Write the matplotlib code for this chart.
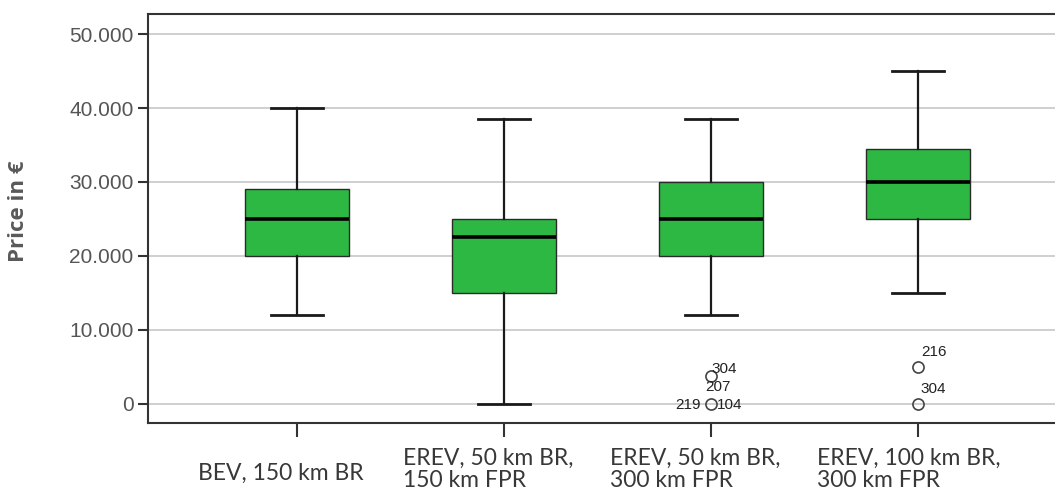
import matplotlib
matplotlib.use('Agg')
import matplotlib.pyplot as plt

# box statistics per vehicle concept (price in EUR)
groups=['BEV, 150 km BR','EREV, 50 km BR,\n150 km FPR','EREV, 50 km BR,\n300 km FPR','EREV, 100 km BR,\n300 km FPR']
whislo=[12000,0,12000,15000]
q1=[20000,15000,20000,25000]
med=[25000,22500,25000,30000]
q3=[29000,25000,30000,34500]
whishi=[40000,38500,38500,45000]
fliers=[[],[],[3800,0],[5000,0]]
# case ids for outliers: (group, value, label, offset in points)
outlier_ids=[(3,3800,'304',(0,5)),(3,0,'207',(-4,12)),(3,0,'219',(-26,-1)),(3,0,'104',(4,-1)),
             (4,5000,'216',(2,11)),(4,0,'304',(2,11))]
yticks=[0,10000,20000,30000,40000,50000]
ytick_labels=['0','10.000','20.000','30.000','40.000','50.000']

fig=plt.figure(figsize=(10.55,5),dpi=100)
ax=fig.add_axes([148/1055,77/500,907/1055,409/500])

stats=[]
for i in range(len(groups)):
    stats.append(dict(whislo=whislo[i],q1=q1[i],med=med[i],q3=q3[i],whishi=whishi[i],fliers=fliers[i]))

pos=[1,2,3,4]
ax.bxp(stats,positions=pos,widths=0.5,patch_artist=True,
       boxprops=dict(facecolor='#2db843',edgecolor='#2a2a2a',linewidth=1.0),
       medianprops=dict(color='black',linewidth=2.6),
       whiskerprops=dict(color='#1a1a1a',linewidth=1.6),
       capprops=dict(color='#1a1a1a',linewidth=2.0),
       capwidths=0.25,
       flierprops=dict(marker='o',markerfacecolor='none',markeredgecolor='#444444',markersize=8,markeredgewidth=1.2),
       zorder=3)

for g,v,lab,off in outlier_ids:
    ax.annotate(lab,(g,v),xytext=off,textcoords='offset points',fontsize=11,color='#222222',
                family='Liberation Sans',va='center',ha='left',zorder=4)

ax.set_ylim(-2568,52703)
ax.set_xlim(0.28,4.662)
ax.set_yticks(yticks)
ax.set_yticklabels(ytick_labels,fontsize=15,color='#555555',family='Liberation Sans')
ax.grid(axis='y',color='#cccccc',linewidth=1.3,zorder=0)
ax.set_axisbelow(True)
ax.tick_params(axis='y',direction='out',length=7,width=1.5,color='#333333')
ax.set_xticks(pos)
ax.set_xticklabels([])
ax.tick_params(axis='x',direction='out',length=10,width=1.5,color='#333333')
for s in ['left','bottom','top']:
    ax.spines[s].set_color('#333333')
    ax.spines[s].set_linewidth(1.5)
ax.spines['right'].set_visible(False)

ax.set_ylabel('Price in €',fontsize=16,fontweight='bold',color='#595959',family='Open Sans')
ax.yaxis.set_label_coords(-0.131,0.518)

tr=ax.get_xaxis_transform()
for i,lab in enumerate(groups):
    if '\n' in lab:
        ax.text(pos[i]-0.49,-0.113,lab,transform=tr,ha='left',va='center',
                fontsize=16.5,color='#383838',family='Lato',linespacing=1.05)
    else:
        ax.text(pos[i]-0.08,-0.122,lab,transform=tr,ha='center',va='center',
                fontsize=16.5,color='#383838',family='Lato')

fig.savefig('out.png',dpi=100)
